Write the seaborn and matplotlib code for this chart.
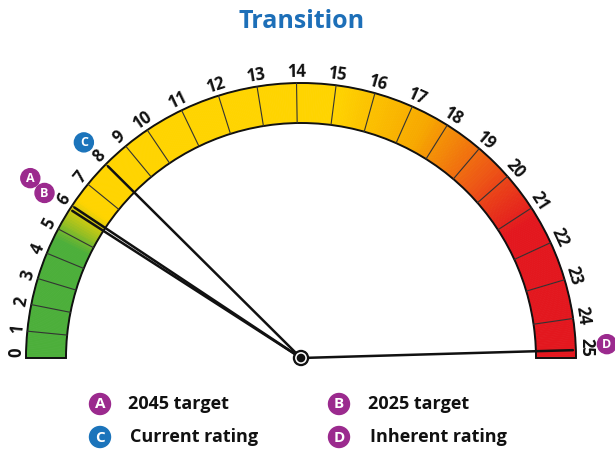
import numpy as np
import pandas as pd
import matplotlib
matplotlib.use("Agg")
import matplotlib.pyplot as plt
import seaborn as sns
from matplotlib.patches import Wedge, Circle
from matplotlib.colors import LinearSegmentedColormap

# gauge scale 0..25
scale_ticks = list(range(0, 26))
# ratings shown by the needles
marker_letters = ["A", "B", "C", "D"]
marker_names = ["2045 target", "2025 target", "Current rating", "Inherent rating"]
marker_values = [6.0, 5.85, 8.0, 24.8]

title = "Transition"

# styling
PURPLE = "#9b2a8e"
BLUE = "#1b74bb"
marker_colors = [PURPLE, PURPLE, BLUE, PURPLE]
R_OUT, R_IN, R_LAB = 275, 235, 285


def angle(v):
    # the printed dial is squeezed at the low end
    return np.interp(v, [0, 10, 25], [180, 124, 0])


def polar(v, r):
    a = np.deg2rad(angle(v))
    return r * np.cos(a), r * np.sin(a)


def main():
    sns.set_theme(style="white")
    plt.rcParams["font.family"] = ["Open Sans", "DejaVu Sans"]

    fig = plt.figure(figsize=(6.15, 4.5), dpi=100)
    ax = fig.add_axes([0, 0, 1, 1])

    # colour band
    cmap = LinearSegmentedColormap.from_list("band", [
        (0.0, "#4caf3a"), (4.6 / 25, "#4caf3a"), (6.3 / 25, "#ffd400"),
        (15 / 25, "#ffd400"), (17.5 / 25, "#f7a800"), (19.5 / 25, "#ee5a14"),
        (21.3 / 25, "#e3171e"), (1.0, "#e3171e")])
    edges = np.linspace(0, 25, 501)
    for v0, v1 in zip(edges[:-1], edges[1:]):
        c = cmap((v0 + v1) / 2 / 25)
        ax.add_patch(Wedge((0, 0), R_OUT, angle(v1), angle(v0),
                           width=R_OUT - R_IN, fc=c, ec=c, lw=0.6))
    ax.add_patch(Wedge((0, 0), R_OUT, 0, 180, width=R_OUT - R_IN,
                       fill=False, ec="#111111", lw=1.4, zorder=3))

    # segment lines and labels
    for v in scale_ticks:
        if 0 < v < 25:
            x0, y0 = polar(v, R_IN)
            x1, y1 = polar(v, R_OUT)
            ax.plot([x0, x1], [y0, y1], color="#333333", lw=0.8, zorder=3)
        lx, ly = polar(v, R_LAB)
        # end labels sit on the baseline instead of straddling it
        ha = "left" if v == scale_ticks[0] else (
            "right" if v == scale_ticks[-1] else "center")
        ax.text(lx, ly + 1, str(v), rotation=angle(v) - 90,
                rotation_mode="anchor", ha=ha, va="center", fontsize=12,
                fontweight="bold", color="#111111")

    # needles
    for v in marker_values:
        nx, ny = polar(v, 272)
        df = pd.DataFrame({"x": [0, nx], "y": [0, ny]})
        sns.lineplot(data=df, x="x", y="y", sort=False, estimator=None,
                     color="#111111", lw=1.8, ax=ax, zorder=4)
    ax.set_xlim(-301, 314)
    ax.set_ylim(-92, 358)
    ax.axis("off")

    # hub
    ax.add_patch(Circle((0, 0), 7.5, color="#111111", zorder=5))
    ax.add_patch(Circle((0, 0), 5.2, color="white", zorder=6))
    ax.add_patch(Circle((0, 0), 3.6, color="#111111", zorder=7))

    # badges next to the dial
    stacked = {}
    for letter, v, c in zip(marker_letters, marker_values, marker_colors):
        key = round(v)
        n = stacked.get(key, 0)
        stacked[key] = n + 1
        r = 305 + 20 * (1 - n) if key == 6 else 306
        bx, by = polar(v, r)
        if v > 20:
            by += 5
        ax.add_patch(Circle((bx, by), 9.5, color=c, zorder=5, clip_on=False))
        ax.text(bx, by - 0.5, letter, ha="center", va="center", color="white",
                fontsize=9, fontweight="bold", zorder=6)

    # legend
    spots = [(100, 404, 128), (339, 404, 368), (100, 437, 130), (339, 437, 370)]
    for (px, py, tx), letter, name, c in zip(spots, marker_letters,
                                            marker_names, marker_colors):
        y = 358 - py
        ax.add_patch(Circle((px - 301, y), 10.5, color=c, zorder=5))
        ax.text(px - 301, y - 0.5, letter, ha="center", va="center",
                color="white", fontsize=11, fontweight="bold", zorder=6)
        ax.text(tx - 301, y, name, ha="left", va="center", fontsize=13,
                fontweight="bold", color="#111111")

    ax.text(1, 336, title, ha="center", va="center", fontsize=18,
            fontweight="bold", color="#1d6fb8")

    fig.savefig("out.png", dpi=100)


if __name__ == "__main__":
    main()
